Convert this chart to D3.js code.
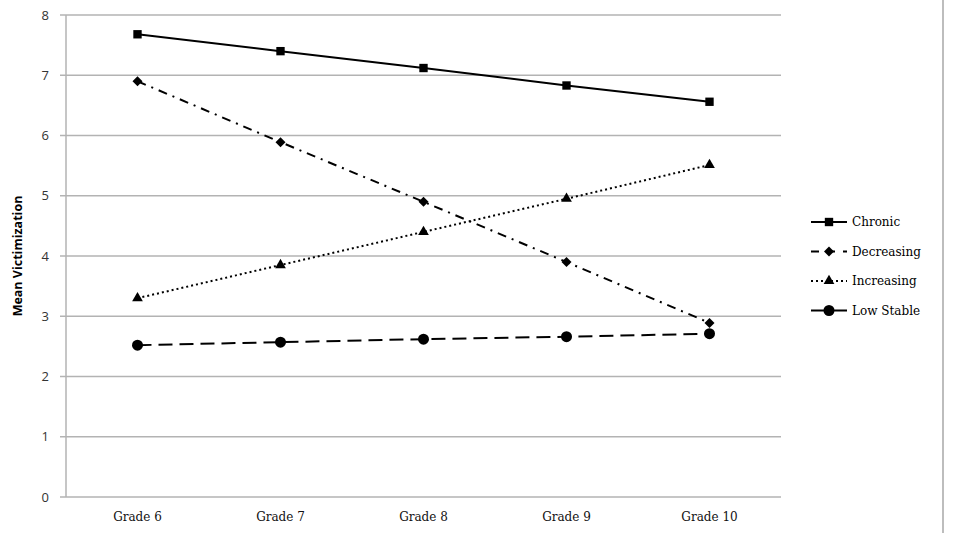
<!DOCTYPE html>
<html lang="en">
<meta charset="utf-8">
<style>
body {
  margin: 0;
  background: #fff;
  font-family: 'DejaVu Serif', serif;
}
.grid line { stroke: #b3b3b3; stroke-width: 1.5; }
.axis text { font-size: 12px; fill: #111; }
.axis.yaxis text { font-family: 'Open Sans', sans-serif; font-size: 13px; fill: #333; }
.legend text { font-size: 12px; fill: #000; }
</style>
<body>
<div id="chart"></div>
<script src="https://cdn.jsdelivr.net/npm/d3@7"></script>
<script>

// data
var grades = ["Grade 6", "Grade 7", "Grade 8", "Grade 9", "Grade 10"];
var chronic = [7.68, 7.40, 7.12, 6.83, 6.56];
var decreasing = [6.90, 5.89, 4.90, 3.90, 2.89];
var increasing = [3.30, 3.85, 4.40, 4.95, 5.51];
var lowStable = [2.52, 2.57, 2.62, 2.66, 2.71];
var yTicks = [0, 1, 2, 3, 4, 5, 6, 7, 8];

var series = [
  {name: "Chronic", values: chronic, dash: null, legendDash: null, shape: d3.symbolSquare, size: 70, rot: 0},
  {name: "Decreasing", values: decreasing, dash: "9,6,2,6", legendDash: "8,8", shape: d3.symbolSquare, size: 50, rot: 45},
  {name: "Increasing", values: increasing, dash: "2,3", legendDash: "2,3", shape: d3.symbolTriangle, size: 50, rot: 0},
  {name: "Low Stable", values: lowStable, dash: "14,7", legendDash: null, shape: d3.symbolCircle, size: 95, rot: 0}
];

var width = 961, height = 533;
var margin = {left: 66, right: 180, top: 15, bottom: 36};

var svg = d3.select("#chart").append("svg")
    .attr("width", width)
    .attr("height", height);

var x = d3.scaleBand()
    .domain(grades)
    .range([margin.left, width - margin.right]);

var y = d3.scaleLinear()
    .domain([0, 8])
    .range([height - margin.bottom, margin.top]);

// horizontal grid lines
svg.append("g")
    .attr("class", "grid")
  .selectAll("line")
    .data(yTicks)
  .enter().append("line")
    .attr("x1", margin.left - 6)
    .attr("x2", width - margin.right)
    .attr("y1", function(d) { return y(d); })
    .attr("y2", function(d) { return y(d); });

// left axis line
svg.append("line")
    .attr("x1", margin.left).attr("x2", margin.left)
    .attr("y1", y(8)).attr("y2", y(0))
    .attr("stroke", "#b3b3b3").attr("stroke-width", 1.5);

// y labels
svg.append("g")
    .attr("class", "axis yaxis")
  .selectAll("text")
    .data(yTicks)
  .enter().append("text")
    .attr("x", 49)
    .attr("y", function(d) { return y(d); })
    .attr("dy", "0.35em")
    .attr("text-anchor", "end")
    .text(function(d) { return d; });

// x labels
svg.append("g")
    .attr("class", "axis")
  .selectAll("text")
    .data(grades)
  .enter().append("text")
    .attr("x", function(d) { return x(d) + x.bandwidth() / 2; })
    .attr("y", y(0) + 24)
    .attr("text-anchor", "middle")
    .text(function(d) { return d; });

svg.append("text")
    .attr("transform", "translate(22," + (y(4)) + ") rotate(-90)")
    .attr("text-anchor", "middle")
    .style("font-family", "'Open Sans', sans-serif")
    .style("font-size", "12.5px")
    .style("font-weight", "bold")
    .text("Mean Victimization");

var line = d3.line()
    .x(function(d, i) { return x(grades[i]) + x.bandwidth() / 2; })
    .y(function(d) { return y(d); });

series.forEach(function(s) {
  svg.append("path")
      .datum(s.values)
      .attr("fill", "none")
      .attr("stroke", "#000")
      .attr("stroke-width", 2)
      .attr("stroke-dasharray", s.dash)
      .attr("d", line);

  svg.selectAll(null)
      .data(s.values)
    .enter().append("path")
      .attr("transform", function(d, i) {
        return "translate(" + (x(grades[i]) + x.bandwidth() / 2) + "," + y(d) + ") rotate(" + s.rot + ")";
      })
      .attr("d", d3.symbol().type(s.shape).size(s.size))
      .attr("fill", "#000");
});

// legend
var legend = svg.append("g")
    .attr("class", "legend")
  .selectAll("g")
    .data(series)
  .enter().append("g")
    .attr("transform", function(d, i) { return "translate(811," + (222 + i * 29.5) + ")"; });

legend.append("line")
    .attr("x1", 0).attr("x2", 36)
    .attr("stroke", "#000")
    .attr("stroke-width", 2)
    .attr("stroke-dasharray", function(d) { return d.legendDash; });

legend.append("path")
    .attr("transform", function(d) { return "translate(18,0) rotate(" + d.rot + ")"; })
    .attr("d", function(d) { return d3.symbol().type(d.shape).size(d.size)(); })
    .attr("fill", "#000");

legend.append("text")
    .attr("x", 41)
    .attr("dy", "0.35em")
    .text(function(d) { return d.name; });

// grey page edge on the right
svg.append("line")
    .attr("x1", 943).attr("x2", 943)
    .attr("y1", 0).attr("y2", height)
    .attr("stroke", "#bdbdbd").attr("stroke-width", 2);

</script>
</body>
</html>
